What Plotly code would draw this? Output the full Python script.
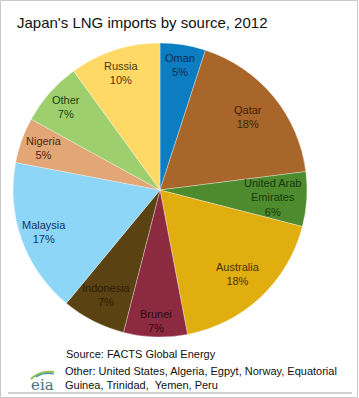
import math
import plotly.graph_objects as go

countries = ["Oman", "Qatar", "United Arab<br>Emirates", "Australia", "Brunei",
             "Indonesia", "Malaysia", "Nigeria", "Other", "Russia"]
shares = [5, 18, 6, 18, 7, 7, 17, 5, 7, 10]

colors = ["#0B7DC0", "#A8662A", "#4E8B2F", "#E1AE10", "#8C2A40",
          "#5B4212", "#8ED6F8", "#E2A677", "#9DCF6F", "#FFD966"]
text_colors = ["#0D2D52", "#3F1F05", "#173A0C", "#4A3300", "#2E0A12",
               "#2A1C04", "#10345A", "#4A2A10", "#1F3F10", "#4A3A10"]
# radial placement of each label as a fraction of the pie radius
label_radius = [0.86, 0.78, 0.77, 0.78, 0.89, 0.80, 0.84, 0.84, 0.85, 0.84]

W, H = 359, 398
cx, cy, r = 160, 190, 147

fig = go.Figure(go.Pie(
    labels=countries,
    values=shares,
    sort=False,
    direction="clockwise",
    rotation=0,
    marker=dict(colors=colors, line=dict(color="rgba(255,255,255,0.45)", width=0.7)),
    textinfo="none",
    domain=dict(x=[(cx - r) / W, (cx + r) / W], y=[(H - cy - r) / H, (H - cy + r) / H]),
    showlegend=False,
    hoverinfo="label+percent",
))

annotations = []
total = sum(shares)
cum = 0
for name, v, tc, fr in zip(countries, shares, text_colors, label_radius):
    mid = (cum + v / 2) / total * 2 * math.pi
    cum += v
    px = cx + fr * r * math.sin(mid)
    py = cy - fr * r * math.cos(mid)
    annotations.append(dict(
        text=f"{name}<br>{v}%", x=px / W, y=1 - py / H, xref="paper", yref="paper",
        xanchor="center", yanchor="middle", showarrow=False, align="center",
        font=dict(size=11, color=tc)))

annotations += [
    dict(text="Japan's LNG imports by source, 2012", x=15 / W, y=1 - 22 / H,
         xref="paper", yref="paper", xanchor="left", yanchor="middle",
         showarrow=False, font=dict(size=15, color="#111111")),
    dict(text="Source: FACTS Global Energy", x=64 / W, y=1 - 354 / H,
         xref="paper", yref="paper", xanchor="left", yanchor="middle",
         showarrow=False, font=dict(size=11, color="#111111")),
    dict(text="Other: United States, Algeria, Egpyt, Norway, Equatorial<br>Guinea, Trinidad,  Yemen, Peru",
         x=63 / W, y=1 - 378 / H, xref="paper", yref="paper",
         xanchor="left", yanchor="middle", align="left",
         showarrow=False, font=dict(size=11, color="#111111")),
    dict(text="eia", x=42 / W, y=1 - 385 / H, xref="paper", yref="paper",
         xanchor="center", yanchor="middle", showarrow=False,
         font=dict(family="DejaVu Serif, serif", size=15, color="#4A6F8C")),
]

fig.update_layout(
    width=W, height=H,
    margin=dict(l=0, r=0, t=0, b=0),
    paper_bgcolor="white",
    plot_bgcolor="white",
    font=dict(family="Liberation Sans, Arial, sans-serif", color="#000000"),
    annotations=annotations,
    shapes=[
        dict(type="rect", xref="paper", yref="paper", x0=0.5 / W, x1=1 - 1.5 / W,
             y0=0.5 / H, y1=1 - 0.5 / H, line=dict(color="#C9C9C9", width=1)),
        dict(type="line", xref="paper", yref="paper", x0=8 / W, x1=352 / W,
             y0=1 - 393 / H, y1=1 - 393 / H, line=dict(color="#A0A0A0", width=1)),
        dict(type="path", xref="paper", yref="paper",
             path=f"M {31/W},{1-379/H} Q {40/W},{1-370/H} {54/W},{1-372/H}",
             line=dict(color="#8CC04A", width=2)),
        dict(type="path", xref="paper", yref="paper",
             path=f"M {36/W},{1-377/H} Q {44/W},{1-372/H} {54/W},{1-374/H}",
             line=dict(color="#3F8FC0", width=1.2)),
    ],
)

fig.write_html("out.html", config={"displayModeBar": False},
               post_script="document.body.style.margin='0';document.body.style.overflow='hidden';")
